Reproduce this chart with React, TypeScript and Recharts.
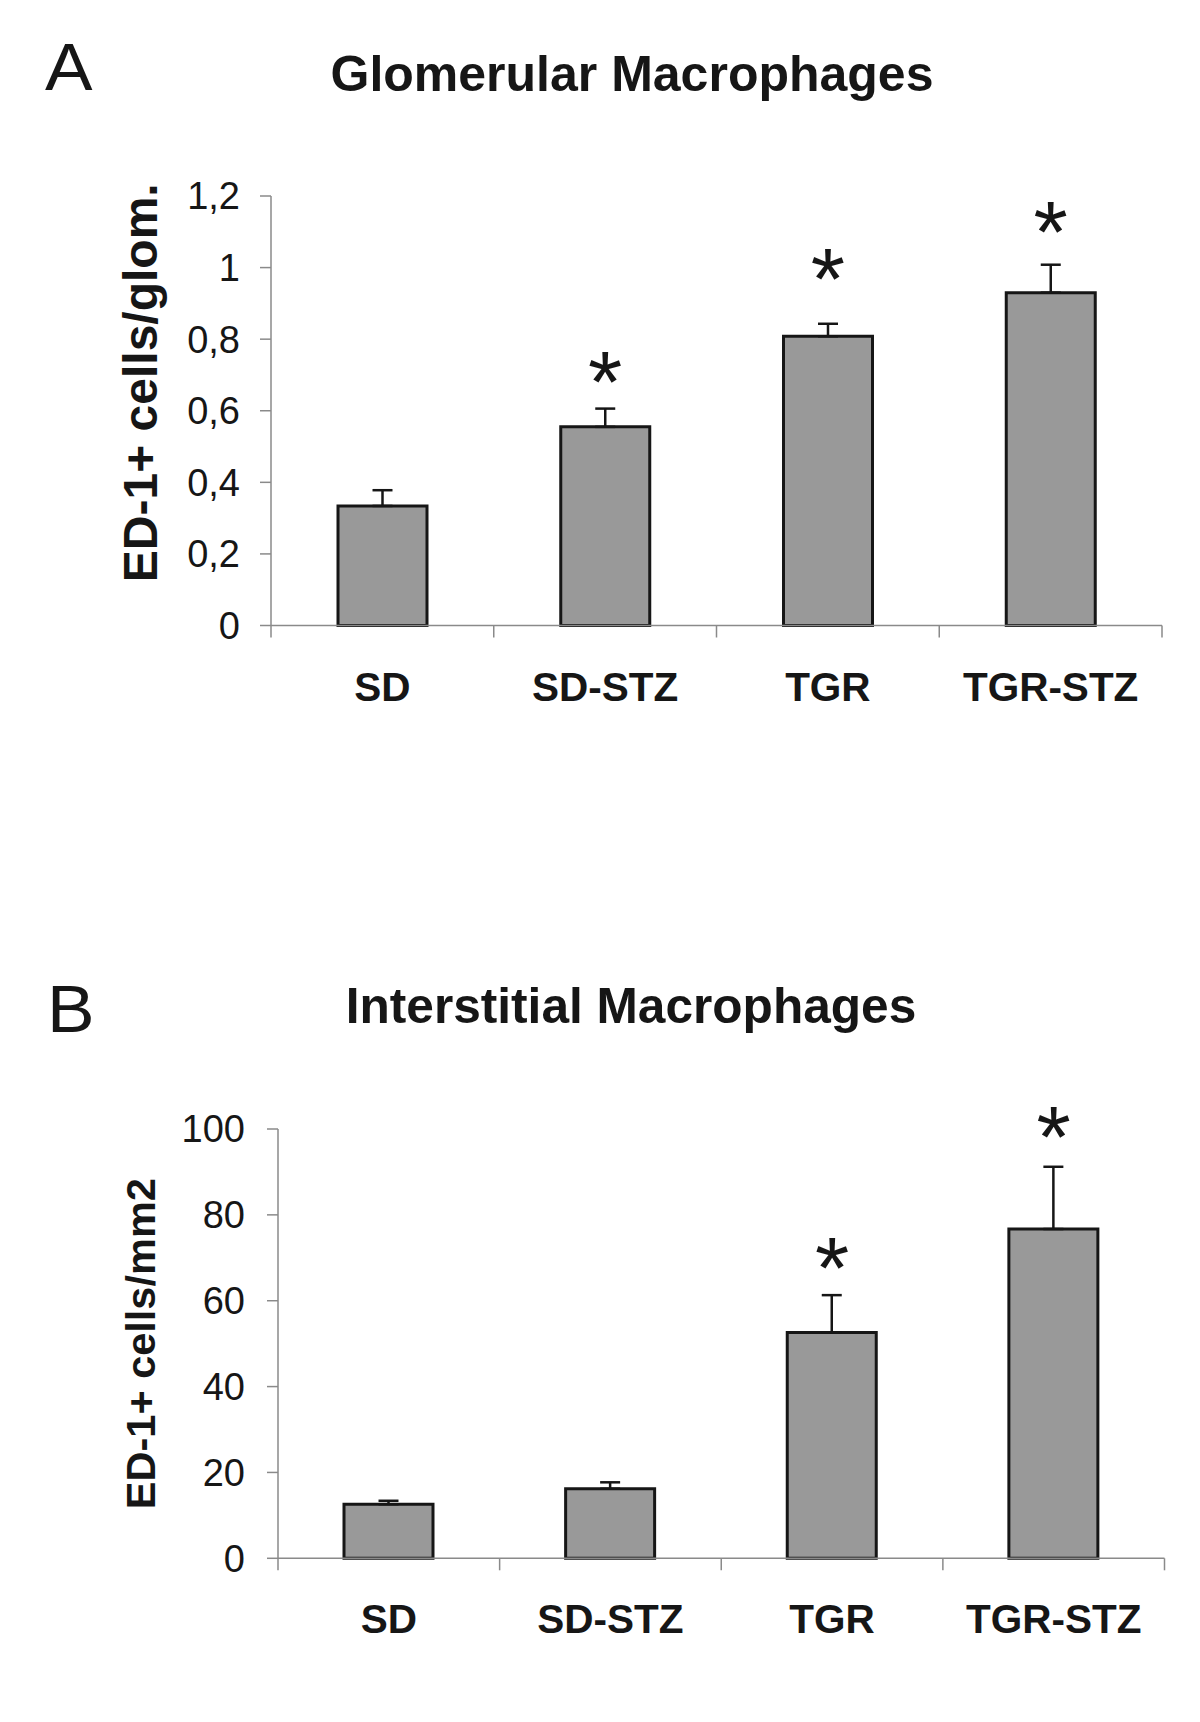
import React from 'react';
import { BarChart, Bar, XAxis, YAxis, ErrorBar, ReferenceDot, Label } from 'recharts';

const categories = ['SD', 'SD-STZ', 'TGR', 'TGR-STZ'];

const glomMeans = [0.334, 0.555, 0.808, 0.93];
const glomSEM = [0.044, 0.051, 0.035, 0.078];
const glomStars: (number | null)[] = [null, 0.737, 1.025, 1.157];
const glomTicks = [0, 0.2, 0.4, 0.6, 0.8, 1, 1.2];

const interMeans = [12.6, 16.2, 52.6, 76.7];
const interSEM = [0.8, 1.5, 8.7, 14.5];
const interStars: (number | null)[] = [null, null, 72.3, 102.8];
const interTicks = [0, 20, 40, 60, 80, 100];

const FONT = '"Liberation Sans", Arial, Helvetica, sans-serif';
const TEXT = '#161616';
const AXIS = '#8a8a8a';
const BAR_FILL = '#999999';

const glomData = categories.map((c, i) => ({ name: c, value: glomMeans[i], err: [0, glomSEM[i]] }));
const interData = categories.map((c, i) => ({ name: c, value: interMeans[i], err: [0, interSEM[i]] }));

const STAR_SIZE = 88;
const starShape = (p: any) => (
  <text
    x={p.cx}
    y={p.cy + 0.573 * STAR_SIZE}
    textAnchor="middle"
    fontSize={STAR_SIZE}
    fontFamily={FONT}
    fill={TEXT}
  >
    *
  </text>
);

const X_FONT = 40.5;

const makeXTick = (band: number, tickMargin: number) => (props: any) => {
  const { x, y, payload, index } = props;
  const axisY = y - tickMargin;
  return (
    <g>
      {index === 0 && (
        <line x1={x - band / 2} x2={x - band / 2} y1={axisY} y2={axisY + 12} stroke={AXIS} strokeWidth={1.5} />
      )}
      <line x1={x + band / 2} x2={x + band / 2} y1={axisY} y2={axisY + 12} stroke={AXIS} strokeWidth={1.5} />
      <text
        x={x}
        y={axisY + 75}
        textAnchor="middle"
        fontSize={X_FONT}
        fontWeight="bold"
        fontFamily={FONT}
        fill={TEXT}
      >
        {payload.value}
      </text>
    </g>
  );
};

const yLabel = (text: string, shift: number, size: number) => (props: any) => {
  const vb = props.viewBox || {};
  const cx = vb.x + vb.width / 2;
  const cy = vb.y + vb.height / 2 + shift;
  return (
    <text
      x={cx}
      y={cy}
      transform={`rotate(-90, ${cx}, ${cy})`}
      textAnchor="middle"
      dominantBaseline="central"
      fontSize={size}
      fontWeight="bold"
      fontFamily={FONT}
      fill={TEXT}
    >
      {text}
    </text>
  );
};

const commaFmt = (v: number) => String(v).replace('.', ',');

const A_W = 1200;
const A_H = 760;
const A_MARGIN = { top: 196, right: 38, bottom: 74.5, left: 9 };
const A_YW = 262;
const A_BAND = (A_W - A_MARGIN.left - A_YW - A_MARGIN.right) / categories.length;

const B_W = 1200;
const B_H = 800;
const B_MARGIN = { top: 269, right: 35.5, bottom: 41.7, left: 4 };
const B_YW = 274;
const B_BAND = (B_W - B_MARGIN.left - B_YW - B_MARGIN.right) / categories.length;

const X_MARGIN = 10;

function PanelA() {
  return (
    <BarChart width={A_W} height={A_H} data={glomData} margin={A_MARGIN} barSize={89}>
      <XAxis
        dataKey="name"
        height={60}
        interval={0}
        tickLine={false}
        tickSize={0}
        tickMargin={X_MARGIN}
        axisLine={{ stroke: AXIS, strokeWidth: 1.5 }}
        tick={makeXTick(A_BAND, X_MARGIN)}
      />
      <YAxis
        width={A_YW}
        domain={[0, 1.2]}
        ticks={glomTicks}
        interval={0}
        tickFormatter={commaFmt}
        tickSize={11}
        tickMargin={20}
        axisLine={{ stroke: AXIS, strokeWidth: 1.5 }}
        tickLine={{ stroke: AXIS, strokeWidth: 1.5 }}
        tick={{ fill: TEXT, fontSize: 38, fontFamily: FONT }}
      >
        <Label content={yLabel('ED-1+ cells/glom.', -28, 48)} position="center" />
      </YAxis>
      <Bar dataKey="value" fill={BAR_FILL} stroke={TEXT} strokeWidth={3} isAnimationActive={false}>
        <ErrorBar dataKey="err" width={10} stroke={TEXT} strokeWidth={2.5} direction="y" isAnimationActive={false} />
      </Bar>
      {glomStars.map((s, i) =>
        s === null ? null : (
          <ReferenceDot key={i} x={categories[i]} y={s} r={0} ifOverflow="visible" shape={starShape} />
        )
      )}
    </BarChart>
  );
}

function PanelB() {
  return (
    <BarChart width={B_W} height={B_H} data={interData} margin={B_MARGIN} barSize={89}>
      <XAxis
        dataKey="name"
        height={60}
        interval={0}
        tickLine={false}
        tickSize={0}
        tickMargin={X_MARGIN}
        axisLine={{ stroke: AXIS, strokeWidth: 1.5 }}
        tick={makeXTick(B_BAND, X_MARGIN)}
      />
      <YAxis
        width={B_YW}
        domain={[0, 100]}
        ticks={interTicks}
        interval={0}
        tickSize={11}
        tickMargin={22}
        axisLine={{ stroke: AXIS, strokeWidth: 1.5 }}
        tickLine={{ stroke: AXIS, strokeWidth: 1.5 }}
        tick={{ fill: TEXT, fontSize: 38, fontFamily: FONT }}
      >
        <Label content={yLabel('ED-1+ cells/mm2', 0, 41.5)} position="center" />
      </YAxis>
      <Bar dataKey="value" fill={BAR_FILL} stroke={TEXT} strokeWidth={3} isAnimationActive={false}>
        <ErrorBar dataKey="err" width={10} stroke={TEXT} strokeWidth={2.5} direction="y" isAnimationActive={false} />
      </Bar>
      {interStars.map((s, i) =>
        s === null ? null : (
          <ReferenceDot key={i} x={categories[i]} y={s} r={0} ifOverflow="visible" shape={starShape} />
        )
      )}
    </BarChart>
  );
}

export default function App() {
  return (
    <div style={{ position: 'absolute', left: 0, top: 0, width: 1200, height: 1722, background: '#ffffff', overflow: 'hidden' }}>
      <div style={{ position: 'absolute', left: 0, top: 0 }}>
        <PanelA />
      </div>
      <div style={{ position: 'absolute', left: 0, top: 860 }}>
        <PanelB />
      </div>
      <svg width={1200} height={1722} style={{ position: 'absolute', left: 0, top: 0, pointerEvents: 'none' }}>
        <text transform="translate(45, 90) scale(1.08, 1)" fontSize={66} fontFamily={FONT} fill={TEXT}>A</text>
        <text x={632} y={91} textAnchor="middle" fontSize={50} fontWeight="bold" fontFamily={FONT} fill={TEXT}>
          Glomerular Macrophages
        </text>
        <text transform="translate(47, 1032) scale(1.08, 1)" fontSize={66} fontFamily={FONT} fill={TEXT}>B</text>
        <text x={631} y={1023} textAnchor="middle" fontSize={49.6} fontWeight="bold" fontFamily={FONT} fill={TEXT}>
          Interstitial Macrophages
        </text>
      </svg>
    </div>
  );
}
